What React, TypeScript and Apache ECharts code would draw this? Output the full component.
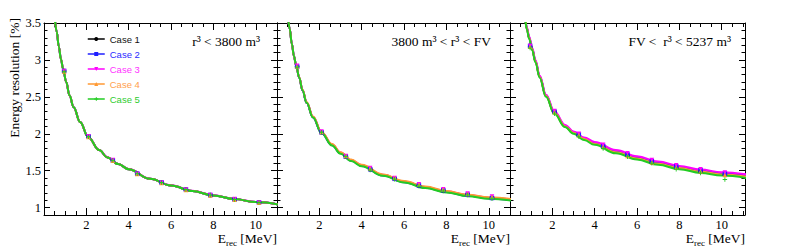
import React, { useEffect, useRef } from "react";
import * as echarts from "echarts";

const SERIF = "Liberation Serif";
const SANS = "Liberation Sans";

const caseNames = ["Case 1", "Case 2", "Case 3", "Case 4", "Case 5"];
const caseColors = ["#000000", "#1f1fff", "#ff00ff", "#ff9933", "#22cc22"];
const legendTextColors = ["#111111", "#2b2bff", "#ff33ff", "#ffa04d", "#2ecc2e"];
const caseSymbols = [
  "circle",
  "rect",
  "triangle",
  "triangle",
  "path://M2,0h1v2h2v1h-2v2h-1v-2h-2v-1h2z",
];
const caseSymbolRotate = [0, 0, 180, 0, 0];

const panelLabels = ["r³ < 3800 m³", "3800 m³ < r³ < FV", "FV <  r³ < 5237 m³"];
const xName = "E_rec [MeV]";
const yName = "Energy resolution [%]";

const xMajorTicks = [2, 4, 6, 8, 10];
const xMinorTicks = [0.5, 1, 1.5, 2, 2.5, 3, 3.5, 4, 4.5, 5, 5.5, 6, 6.5, 7, 7.5, 8, 8.5, 9, 9.5, 10, 10.5, 11];
const yMajorTicks = [1, 1.5, 2, 2.5, 3, 3.5];
const yMinorTicks = [0.9, 1, 1.1, 1.2, 1.3, 1.4, 1.5, 1.6, 1.7, 1.8, 1.9, 2, 2.1, 2.2, 2.3, 2.4, 2.5, 2.6, 2.7, 2.8, 2.9, 3, 3.1, 3.2, 3.3, 3.4, 3.5];

// measured energies of the data points [MeV]
const pointE = [0.95, 2.1, 3.25, 4.4, 5.55, 6.7, 7.85, 9.0, 10.15];

// Panel 1 points (Case 1..5)
const p1Case1 = [2.85, 1.965, 1.64, 1.46, 1.34, 1.245, 1.17, 1.11, 1.07];
const p1Case2 = [2.85, 1.965, 1.64, 1.46, 1.34, 1.245, 1.17, 1.11, 1.07];
const p1Case3 = [2.85, 1.965, 1.645, 1.46, 1.34, 1.245, 1.17, 1.115, 1.07];
const p1Case4 = [2.84, 1.955, 1.635, 1.455, 1.335, 1.24, 1.165, 1.105, 1.065];
const p1Case5 = [2.84, 1.96, 1.64, 1.46, 1.34, 1.245, 1.17, 1.11, 1.07];

// Panel 2 points
const p2Case1 = [2.91, 2.02, 1.695, 1.52, 1.395, 1.30, 1.235, 1.18, 1.135];
const p2Case2 = [2.91, 2.02, 1.69, 1.52, 1.39, 1.30, 1.235, 1.175, 1.13];
const p2Case3 = [2.92, 2.03, 1.70, 1.535, 1.40, 1.315, 1.25, 1.19, 1.15];
const p2Case4 = [2.91, 2.025, 1.70, 1.53, 1.40, 1.31, 1.245, 1.185, 1.145];
const p2Case5 = [2.90, 2.02, 1.69, 1.51, 1.385, 1.29, 1.225, 1.17, 1.12];

// Panel 3 points
const p3Case1 = [3.18, 2.30, 1.98, 1.82, 1.705, 1.615, 1.545, 1.49, 1.445];
const p3Case2 = [3.19, 2.30, 1.99, 1.835, 1.72, 1.63, 1.56, 1.505, 1.46];
const p3Case3 = [3.19, 2.31, 2.0, 1.85, 1.735, 1.645, 1.575, 1.52, 1.475];
const p3Case4 = [3.18, 2.29, 1.98, 1.82, 1.70, 1.61, 1.54, 1.49, 1.44];
const p3Case5 = [3.16, 2.27, 1.96, 1.80, 1.69, 1.60, 1.52, 1.47, 1.38];

const curveE = [0.5, 0.6, 0.7, 0.8, 0.9, 1.05, 1.2, 1.4, 1.7, 2.1, 2.6, 3.0, 3.5, 4.0, 5.0, 6.0, 7.0, 8.0, 9.0, 10.0, 11.2];

// Panel 1 fit curves
const f1Case1 = [3.6, 3.38, 3.18, 3.01, 2.88, 2.70, 2.52, 2.36, 2.16, 1.95, 1.78, 1.68, 1.59, 1.52, 1.39, 1.30, 1.225, 1.165, 1.115, 1.075, 1.035];
const f1Case2 = [3.6, 3.38, 3.18, 3.01, 2.88, 2.70, 2.52, 2.36, 2.16, 1.95, 1.78, 1.68, 1.59, 1.52, 1.39, 1.30, 1.225, 1.165, 1.115, 1.075, 1.035];
const f1Case3 = [3.6, 3.38, 3.18, 3.01, 2.88, 2.70, 2.52, 2.36, 2.16, 1.95, 1.78, 1.682, 1.592, 1.522, 1.392, 1.302, 1.227, 1.167, 1.117, 1.077, 1.037];
const f1Case4 = [3.6, 3.38, 3.18, 3.01, 2.88, 2.70, 2.52, 2.36, 2.16, 1.95, 1.78, 1.68, 1.59, 1.52, 1.39, 1.30, 1.225, 1.165, 1.115, 1.075, 1.035];
const f1Case5 = [3.6, 3.38, 3.18, 3.01, 2.88, 2.70, 2.52, 2.36, 2.16, 1.95, 1.78, 1.68, 1.59, 1.52, 1.39, 1.30, 1.225, 1.165, 1.115, 1.075, 1.035];

// Panel 2 fit curves
const f2Case1 = [3.64, 3.42, 3.22, 3.05, 2.93, 2.76, 2.59, 2.42, 2.225, 2.015, 1.85, 1.74, 1.64, 1.57, 1.44, 1.35, 1.275, 1.215, 1.165, 1.13, 1.10];
const f2Case2 = [3.64, 3.42, 3.22, 3.05, 2.93, 2.76, 2.59, 2.42, 2.222, 2.012, 1.845, 1.735, 1.635, 1.565, 1.435, 1.345, 1.27, 1.21, 1.16, 1.125, 1.095];
const f2Case3 = [3.64, 3.42, 3.22, 3.05, 2.93, 2.76, 2.595, 2.425, 2.23, 2.02, 1.855, 1.745, 1.645, 1.575, 1.445, 1.355, 1.28, 1.22, 1.17, 1.135, 1.105];
const f2Case4 = [3.64, 3.42, 3.22, 3.05, 2.93, 2.765, 2.6, 2.43, 2.235, 2.025, 1.86, 1.75, 1.65, 1.58, 1.45, 1.36, 1.285, 1.225, 1.175, 1.14, 1.11];
const f2Case5 = [3.64, 3.42, 3.22, 3.05, 2.93, 2.76, 2.59, 2.42, 2.22, 2.01, 1.84, 1.73, 1.63, 1.56, 1.43, 1.34, 1.265, 1.205, 1.155, 1.12, 1.09];

// Panel 3 fit curves
const f3Case1 = [3.86, 3.70, 3.56, 3.42, 3.30, 3.14, 2.98, 2.77, 2.51, 2.28, 2.10, 2.012, 1.93, 1.865, 1.753, 1.668, 1.598, 1.538, 1.488, 1.453, 1.421];
const f3Case2 = [3.87, 3.71, 3.57, 3.43, 3.31, 3.15, 2.99, 2.78, 2.52, 2.29, 2.11, 2.02, 1.94, 1.875, 1.765, 1.68, 1.61, 1.55, 1.50, 1.465, 1.435];
const f3Case3 = [3.88, 3.72, 3.58, 3.44, 3.32, 3.16, 3.0, 2.79, 2.53, 2.30, 2.12, 2.03, 1.95, 1.89, 1.78, 1.695, 1.625, 1.565, 1.515, 1.48, 1.45];
const f3Case4 = [3.86, 3.70, 3.56, 3.42, 3.30, 3.14, 2.98, 2.77, 2.51, 2.28, 2.10, 2.01, 1.928, 1.862, 1.75, 1.665, 1.595, 1.535, 1.485, 1.45, 1.418];
const f3Case5 = [3.85, 3.69, 3.55, 3.41, 3.29, 3.13, 2.97, 2.76, 2.50, 2.27, 2.09, 2.0, 1.915, 1.85, 1.735, 1.65, 1.58, 1.52, 1.47, 1.435, 1.40];

const panelPoints = [
  [p1Case1, p1Case2, p1Case3, p1Case4, p1Case5],
  [p2Case1, p2Case2, p2Case3, p2Case4, p2Case5],
  [p3Case1, p3Case2, p3Case3, p3Case4, p3Case5],
];
const panelCurves = [
  [f1Case1, f1Case2, f1Case3, f1Case4, f1Case5],
  [f2Case1, f2Case2, f2Case3, f2Case4, f2Case5],
  [f3Case1, f3Case2, f3Case3, f3Case4, f3Case5],
];

const xMin = 0;
const xMaxes = [11, 11, 11.1];
const yMin = 0.9;
const yMax = 3.5;

// layout
const grids = [
  { left: 44, top: 23, width: 233, height: 192 },
  { left: 277, top: 23, width: 233, height: 192 },
  { left: 510, top: 23, width: 235, height: 192 },
];

export default function App() {
  const ref = useRef<HTMLDivElement>(null);
  useEffect(() => {
    if (!ref.current) return;
    const chart = echarts.init(ref.current, null, { renderer: "svg" });

    const xAxis: any[] = [];
    const yAxis: any[] = [];
    const tick = (len: number, vals: number[]) => ({
      show: true,
      inside: true,
      length: len,
      customValues: vals,
      lineStyle: { color: "#000", width: 1 },
    });
    grids.forEach((g, gi) => {
      const xBase = {
        type: "value",
        gridIndex: gi,
        min: xMin,
        max: xMaxes[gi],
        splitLine: { show: false },
        axisLine: { show: true, onZero: false, lineStyle: { color: "#000", width: 1 } },
      };
      xAxis.push({
        ...xBase,
        position: "bottom",
        axisTick: tick(7, xMajorTicks),
        axisLabel: {
          show: true,
          customValues: xMajorTicks,
          margin: 4,
          fontFamily: SERIF,
          fontSize: 12.5,
          lineHeight: 11,
          color: "#000",
        },
      });
      xAxis.push({
        ...xBase,
        position: "bottom",
        axisLine: { show: false, onZero: false },
        axisTick: tick(4, xMinorTicks),
        axisLabel: { show: false },
      });
      xAxis.push({
        ...xBase,
        position: "top",
        axisTick: tick(7, xMajorTicks),
        axisLabel: { show: false },
      });
      xAxis.push({
        ...xBase,
        position: "top",
        axisLine: { show: false, onZero: false },
        axisTick: tick(4, xMinorTicks),
        axisLabel: { show: false },
      });

      const yBase = {
        type: "value",
        gridIndex: gi,
        min: yMin,
        max: yMax,
        splitLine: { show: false },
        axisLine: { show: true, onZero: false, lineStyle: { color: "#000", width: 1 } },
      };
      yAxis.push({
        ...yBase,
        position: "left",
        axisTick: tick(6, yMajorTicks),
        axisLabel: {
          show: gi === 0,
          customValues: yMajorTicks,
          margin: 3,
          fontFamily: SERIF,
          fontSize: 12.5,
          color: "#000",
        },
      });
      yAxis.push({
        ...yBase,
        position: "left",
        axisLine: { show: false, onZero: false },
        axisTick: tick(3.5, yMinorTicks),
        axisLabel: { show: false },
      });
      yAxis.push({
        ...yBase,
        position: "right",
        axisTick: tick(6, yMajorTicks),
        axisLabel: { show: false },
      });
      yAxis.push({
        ...yBase,
        position: "right",
        axisLine: { show: false, onZero: false },
        axisTick: tick(3.5, yMinorTicks),
        axisLabel: { show: false },
      });
    });

    const series: any[] = [];
    // fit curves
    for (let p = 0; p < 3; p++) {
      for (let c = 0; c < 5; c++) {
        series.push({
          type: "line",
          name: caseNames[c],
          xAxisIndex: p * 4,
          yAxisIndex: p * 4,
          data: curveE.map((e, i) => [e, panelCurves[p][c][i]]),
          smooth: 0.4,
          smoothMonotone: "x",
          showSymbol: false,
          symbol: caseSymbols[c],
          symbolRotate: caseSymbolRotate[c],
          symbolSize: 5,
          lineStyle: { color: caseColors[c], width: 2 },
          itemStyle: { color: caseColors[c] },
          silent: true,
          clip: true,
          z: 2,
        });
      }
    }
    // data points
    for (let p = 0; p < 3; p++) {
      for (let c = 0; c < 5; c++) {
        series.push({
          type: "scatter",
          name: caseNames[c] + " points",
          xAxisIndex: p * 4,
          yAxisIndex: p * 4,
          data: pointE.map((e, i) => [e, panelPoints[p][c][i]]),
          symbol: caseSymbols[c],
          symbolRotate: caseSymbolRotate[c],
          symbolSize: 4.5,
          itemStyle: { color: caseColors[c], opacity: 1 },
          silent: true,
          z: 3,
        });
      }
    }

    const graphic: any[] = [];
    graphic.push({
      type: "text",
      x: 14,
      y: 18,
      rotation: Math.PI / 2,
      style: {
        text: yName,
        fontFamily: SERIF,
        fontSize: 13.5,
        fill: "#000",
        align: "right",
        verticalAlign: "middle",
      },
    });
    const labelRight = [260, 491, 731];
    panelLabels.forEach((t, i) => {
      graphic.push({
        type: "text",
        x: labelRight[i],
        y: 41,
        style: {
          text: t,
          fontFamily: SERIF,
          fontSize: 13.5,
          fill: "#000",
          align: "right",
          verticalAlign: "middle",
        },
      });
    });
    const [xMain, xRest] = xName.split("_");
    const [xSub, ...xTail] = xRest.split(" ");
    grids.forEach((g) => {
      graphic.push({
        type: "text",
        x: g.left + g.width,
        y: 231,
        style: {
          text: `{m|${xMain}}{s|${xSub}}{m| ${xTail.join(" ")}}`,
          align: "right",
          verticalAlign: "top",
          fill: "#000",
          rich: {
            m: { fontFamily: SERIF, fontSize: 13.5, lineHeight: 15, fill: "#000" },
            s: { fontFamily: SERIF, fontSize: 9, lineHeight: 9, padding: [8, 0, 0, 0], fill: "#000" },
          },
        },
      });
    });

    chart.setOption({
      animation: false,
      backgroundColor: "#fff",
      grid: grids.map((g) => ({ ...g, containLabel: false })),
      xAxis,
      yAxis,
      legend: {
        orient: "vertical",
        left: 87,
        top: 34,
        padding: 0,
        itemWidth: 17,
        itemHeight: 5,
        itemGap: 5,
        selectedMode: false,
        lineStyle: { width: 1.5 },
        textStyle: { fontFamily: SANS, fontSize: 9.5, lineHeight: 10 },
        data: caseNames.map((n, i) => ({ name: n, textStyle: { color: legendTextColors[i] } })),
      },
      graphic,
      series,
    });
    return () => chart.dispose();
  }, []);
  return (
    <div
      ref={ref}
      style={{ position: "absolute", left: 0, top: 0, width: 789, height: 252 }}
    />
  );
}
